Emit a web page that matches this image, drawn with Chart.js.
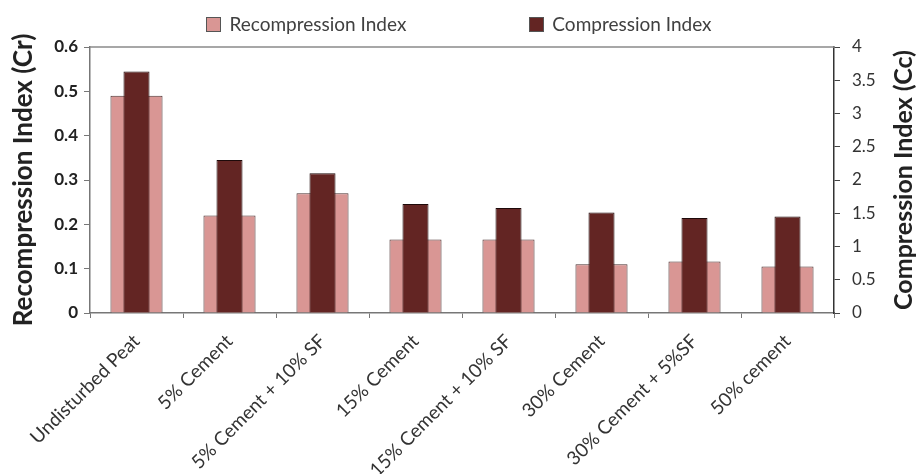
<!DOCTYPE html>
<html>
<head>
<meta charset="utf-8">
<script src="https://cdn.jsdelivr.net/npm/chart.js@4"></script>
<style>
    html, body { margin: 0; padding: 0; background: #fff; }
    #wrap { position: relative; width: 918px; height: 474px; }
    #legend {
        position: absolute; left: 0; right: 0; top: 13px;
        display: flex; justify-content: center; gap: 123px;
        font-family: Lato, sans-serif; font-size: 19px; color: #404040;
    }
    #legend .item { display: flex; align-items: center; line-height: 22px; }
    #legend .swatch { width: 13px; height: 13px; margin-right: 8px; border: 1px solid #555; }
</style>
</head>
<body>
<div id="wrap">
    <canvas id="indexChart" width="918" height="474"></canvas>
    <div id="legend"></div>
</div>
<script>
const categories = [
    'Undisturbed Peat',
    '5% Cement',
    '5% Cement + 10% SF',
    '15% Cement',
    '15% Cement + 10% SF',
    '30% Cement',
    '30% Cement + 5%SF',
    '50% cement'
];
const recompressionIndex = [0.49, 0.22, 0.27, 0.166, 0.166, 0.11, 0.116, 0.105];
const compressionIndex = [3.63, 2.30, 2.10, 1.64, 1.58, 1.51, 1.43, 1.45];
const crTicks = [0, 0.1, 0.2, 0.3, 0.4, 0.5, 0.6];
const ccTicks = [0, 0.5, 1, 1.5, 2, 2.5, 3, 3.5, 4];

const crTitle = 'Recompression Index (Cr)';
const ccTitle = 'Compression Index (Cc)';

// right-hand title reads bottom-to-top, so it is drawn here instead of by the scale
const ccTitlePlugin = {
    id: 'ccTitle',
    afterDraw(chart) {
        const scale = chart.scales.cc;
        const { ctx } = chart;
        ctx.save();
        ctx.translate(scale.right - 14, (chart.chartArea.top + chart.chartArea.bottom) / 2);
        ctx.rotate(-Math.PI / 2);
        ctx.font = 'bold 25px Lato, sans-serif';
        ctx.fillStyle = '#222';
        ctx.textAlign = 'center';
        ctx.textBaseline = 'middle';
        ctx.fillText(ccTitle, 0, 0);
        ctx.restore();
    }
};

// top edge of the plot frame
const frameTopPlugin = {
    id: 'frameTop',
    afterDraw(chart) {
        const { ctx, chartArea } = chart;
        ctx.save();
        ctx.strokeStyle = '#8a8a8a';
        ctx.lineWidth = 1.5;
        ctx.beginPath();
        ctx.moveTo(chartArea.left, chartArea.top);
        ctx.lineTo(chartArea.right, chartArea.top);
        ctx.stroke();
        ctx.restore();
    }
};

const fmt = (v) => String(Math.round(v * 10) / 10);

const ctx = document.getElementById('indexChart').getContext('2d');
const indexChart = new Chart(ctx, {
    type: 'bar',
    data: {
        labels: categories,
        datasets: [
            {
                label: 'Recompression Index',
                data: recompressionIndex,
                yAxisID: 'cr',
                backgroundColor: '#d99694',
                borderColor: '#4a3030',
                borderWidth: 1,
                barPercentage: 0.56,
                categoryPercentage: 1,
                order: 2
            },
            {
                label: 'Compression Index',
                data: compressionIndex,
                yAxisID: 'cc',
                backgroundColor: '#632523',
                borderColor: '#1e0a0a',
                borderWidth: 1,
                barPercentage: 0.28,
                categoryPercentage: 1,
                order: 1
            }
        ]
    },
    options: {
        responsive: false,
        animation: false,
        grouped: false,
        layout: { padding: { top: 47, left: 0, right: 0, bottom: 0 } },
        plugins: {
            legend: { display: false },
            tooltip: { enabled: false }
        },
        scales: {
            x: {
                offset: true,
                grid: { offset: true, drawOnChartArea: false, drawTicks: true, tickLength: 5, color: '#777' },
                border: { display: true, color: '#777', width: 1.5 },
                ticks: {
                    minRotation: 45,
                    maxRotation: 45,
                    padding: 12,
                    color: '#333',
                    font: { family: 'Lato, sans-serif', size: 19 }
                },
                afterFit: (scale) => { scale.height = 161; }
            },
            cr: {
                type: 'linear',
                position: 'left',
                min: 0,
                max: 0.6,
                afterBuildTicks: (scale) => { scale.ticks = crTicks.map((v) => ({ value: v })); },
                grid: { drawOnChartArea: false, drawTicks: true, tickLength: 6, color: '#777' },
                border: { display: true, color: '#777', width: 1.5 },
                ticks: {
                    padding: 6,
                    color: '#222',
                    font: { family: 'Lato, sans-serif', size: 17, weight: 'bold' },
                    callback: (v) => fmt(v)
                },
                title: {
                    display: true,
                    text: crTitle,
                    color: '#222',
                    padding: { top: 8, bottom: 0 },
                    font: { family: 'Lato, sans-serif', size: 26, weight: 'bold' }
                },
                afterFit: (scale) => { scale.width = 90; }
            },
            cc: {
                type: 'linear',
                position: 'right',
                min: 0,
                max: 4,
                afterBuildTicks: (scale) => { scale.ticks = ccTicks.map((v) => ({ value: v })); },
                grid: { drawOnChartArea: false, drawTicks: true, tickLength: 6, color: '#444' },
                border: { display: true, color: '#333', width: 1.5 },
                ticks: {
                    padding: 12,
                    color: '#333',
                    font: { family: 'Lato, sans-serif', size: 17 },
                    callback: (v) => fmt(v)
                },
                afterFit: (scale) => { scale.width = 84; }
            }
        }
    },
    plugins: [ccTitlePlugin, frameTopPlugin]
});

// legend built from the datasets, shown in dataset order
const legendEl = document.getElementById('legend');
legendEl.innerHTML = indexChart.data.datasets.map((ds) => `
    <div class="item">
        <span class="swatch" style="background:${ds.backgroundColor}"></span>
        <span>${ds.label}</span>
    </div>
`).join('');
</script>
</body>
</html>
